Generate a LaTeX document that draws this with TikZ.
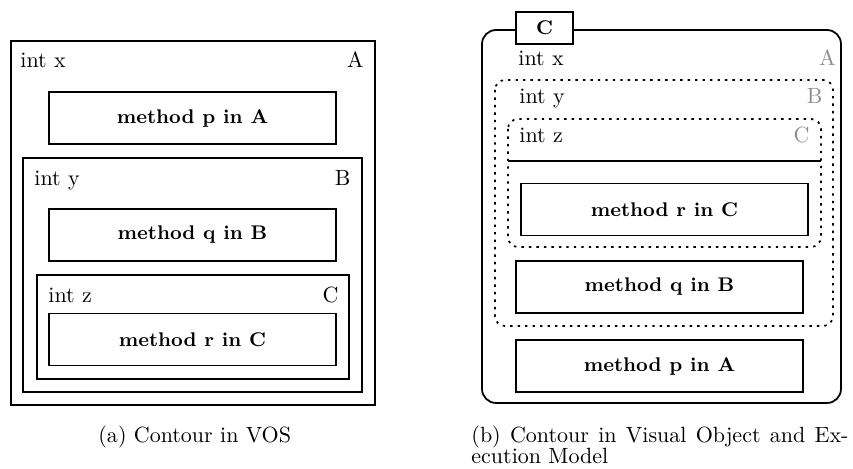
\documentclass[tikz,border=0pt]{standalone}
\begin{document}
\begin{tikzpicture}[
  x=0.4545pt, y=-0.4545pt,
  frame/.style={draw, line width=0.8pt},
  method/.style={draw, line width=0.8pt, minimum width=130.5pt, minimum height=23.6pt,
                 inner sep=0pt, font=\fontsize{9}{11}\selectfont\bfseries},
  tabbox/.style={method, minimum width=25.9pt, minimum height=14.5pt, fill=white},
  var/.style={anchor=base west, inner sep=0pt, font=\fontsize{10}{12}\selectfont},
  cls/.style={anchor=base east, inner sep=0pt, font=\fontsize{10}{12}\selectfont},
  gcls/.style={cls, text=black!45},
  scopeline/.style={line width=0.8pt, dash pattern=on 1.1pt off 2.3pt, rounded corners=4.5pt},
  caption/.style={anchor=base west, inner sep=0pt, font=\fontsize{10}{12}\selectfont}
]
\useasboundingbox (0,0) rectangle (853,469);

% ---------- (a) nested contours ----------
\draw[frame] (11,41) rectangle (375,405);
\node[var] (ax) at (20,68) {int x};
\node[cls] (aA) at (364,68) {A};
\node[method] (ap) at (192.5,118) {method p in A};

\draw[frame] (23,158) rectangle (362,392);
\node[var] (ay) at (34,186) {int y};
\node[cls] (aB) at (351,186) {B};
\node[method] (aq) at (192.5,235) {method q in B};

\draw[frame] (37,275) rectangle (349,379);
\node[var] (az) at (48,303) {int z};
\node[cls] (aC) at (339,303) {C};
\node[method] (ar) at (192.5,339.5) {method r in C};

\node[caption] (capa) at (98,443) {(a) Contour in VOS};

% ---------- (b) object with scoped contours ----------
\draw[frame, rounded corners=6.4pt] (482,30) rectangle (841,403);
\node[tabbox] (tab) at (544.5,28) {C};
\node[var] (bx) at (518,66) {int x};
\node[gcls] (bA) at (836,66) {A};

\draw[scopeline] (495,80) rectangle (833,326);
\node[var] (by) at (519,104) {int y};
\node[gcls] (bB) at (823,104) {B};

\draw[scopeline] (508,119) rectangle (821,247);
\node[var] (bz) at (519,143) {int z};
\node[gcls] (bC) at (810,143) {C};
\coordinate (sepL) at (508,161);
\coordinate (sepR) at (821,161);
\draw[line width=0.8pt] (sepL) -- (sepR);

\node[method] (br) at (664.5,209.5) {method r in C};
\node[method] (bq) at (659.5,287) {method q in B};
\node[method] (bp) at (659.5,366) {method p in A};

\node[caption] (capb1) at (471,443) {\makebox[171.4pt][s]{(b) Contour in Visual Object and Ex-}};
\node[caption] (capb2) at (471,464) {ecution Model};
\end{tikzpicture}
\end{document}
